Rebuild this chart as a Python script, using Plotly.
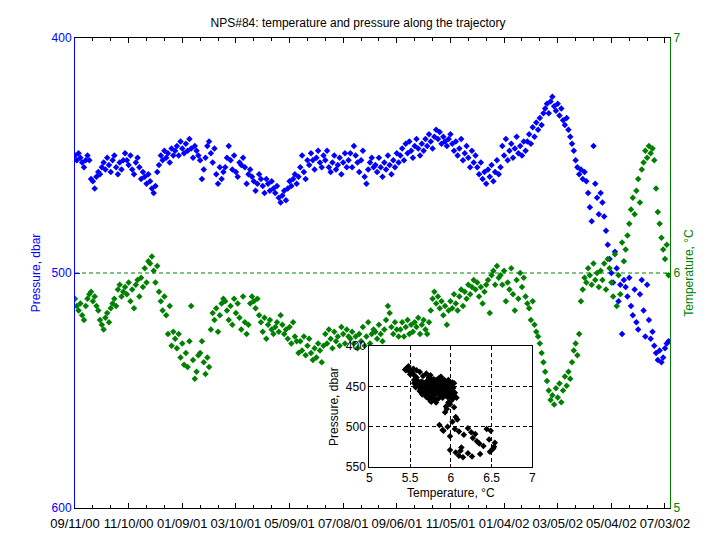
import pandas as pd
import plotly.graph_objects as go

# ---------------- data ----------------
start_date = "2000-09-11"
step_days = 2

pressure = [
    450, 452, 449, 451, 453, 455, 452, 450, 452, 460, 461, 464, 459, 457,
    458, 455, 453, 456, 451, 454, 457, 452, 450, 455, 458, 453, 456, 452,
    449, 452, 454, 450, 456, 458, 453, 451, 455, 460, 457, 459, 462, 458,
    461, 464, 466, 463, 457, 454, 450, 452, 448, 451, 449, 453, 447, 450,
    448, 446, 450, 444, 447, 449, 445, 448, 443, 447, 451, 446, 448, 450,
    452, 460, 456, 451, 446, 444, 449, 453, 447, 458, 462, 455, 460, 457,
    455, 451, 446, 452, 456, 450, 457, 459, 453, 454, 451, 455, 462, 458,
    456, 459, 461, 465, 462, 458, 460, 463, 466, 460, 462, 465, 461, 464,
    466, 463, 468, 470, 467, 465, 469, 464, 461, 463, 460, 458, 462, 459,
    455, 450, 457, 460, 452, 454, 449, 452, 456, 451, 448, 453, 455, 450,
    452, 448, 455, 457, 453, 450, 456, 454, 451, 458, 453, 449, 455, 452,
    449, 455, 446, 450, 453, 457, 452, 448, 459, 462, 456, 453, 451, 455,
    454, 457, 451, 455, 459, 453, 456, 450, 454, 458, 452, 455, 449, 453,
    450, 447, 452, 445, 449, 444, 448, 451, 446, 443, 447, 450, 445, 448,
    443, 446, 441, 444, 447, 442, 439, 443, 440, 445, 442, 444, 446, 443,
    441, 445, 448, 444, 450, 447, 443, 452, 449, 446, 451, 455, 448, 453,
    450, 455, 458, 453, 460, 457, 462, 456, 459, 454, 461, 457, 452, 458,
    455, 446, 450, 443, 452, 448, 445, 451, 447, 442, 449, 446, 450, 444,
    448, 444, 441, 445, 438, 442, 436, 439, 434, 437, 432, 430, 428, 432,
    427, 425, 429, 431, 428, 433, 430, 435, 437, 434, 439, 442, 445, 448,
    452, 455, 458, 456, 460, 457, 461, 466, 472, 478, 446, 462, 468, 475,
    466, 470, 476, 482, 488, 494, 500, 504, 491, 498, 512, 505, 526, 503,
    506, 510, 502, 514, 518, 507, 521, 524, 509, 503, 516, 527, 505, 520,
    528, 525, 531, 534, 537, 533, 538, 536, 532, 530, 529,
]

temperature = [
    5.89, 5.86, 5.84, 5.87, 5.82, 5.80, 5.86, 5.89, 5.91, 5.92, 5.88, 5.90, 5.86, 5.84,
    5.80, 5.78, 5.76, 5.81, 5.83, 5.79, 5.85, 5.87, 5.89, 5.86, 5.93, 5.95, 5.90, 5.92,
    5.94, 5.91, 5.96, 5.88, 5.93, 5.85, 5.95, 5.97, 5.90, 5.98, 5.94, 6.02, 5.96, 6.05,
    6.04, 6.07, 6.01, 5.96, 6.03, 5.92, 5.88, 5.84, 5.90, 5.82, 5.74, 5.86, 5.69, 5.75,
    5.72, 5.68, 5.74, 5.64, 5.70, 5.61, 5.66, 5.60, 5.71, 5.86, 5.63, 5.55, 5.58, 5.65,
    5.66, 5.71, 5.62, 5.57, 5.64, 5.60, 5.76, 5.83, 5.80, 5.85, 5.75, 5.82, 5.87, 5.89,
    5.88, 5.84, 5.80, 5.86, 5.78, 5.89, 5.83, 5.87, 5.81, 5.76, 5.90, 5.79, 5.74, 5.78,
    5.87, 5.90, 5.88, 5.85, 5.89, 5.82, 5.79, 5.75, 5.81, 5.72, 5.78, 5.80, 5.76, 5.74,
    5.77, 5.79, 5.75, 5.82, 5.78, 5.74, 5.76, 5.72, 5.77, 5.70, 5.79, 5.73, 5.71, 5.66,
    5.71, 5.67, 5.73, 5.65, 5.69, 5.72, 5.66, 5.63, 5.68, 5.64, 5.70, 5.67, 5.62, 5.69,
    5.74, 5.70, 5.76, 5.72, 5.68, 5.75, 5.71, 5.73, 5.69, 5.77, 5.74, 5.70, 5.76, 5.73,
    5.72, 5.75, 5.70, 5.73, 5.68, 5.74, 5.71, 5.77, 5.69, 5.73, 5.79, 5.70, 5.74, 5.76,
    5.75, 5.72, 5.78, 5.74, 5.71, 5.76, 5.80, 5.86, 5.83, 5.77, 5.74, 5.79, 5.76, 5.73,
    5.76, 5.79, 5.73, 5.77, 5.80, 5.74, 5.78, 5.75, 5.79, 5.77, 5.81, 5.74, 5.78, 5.80,
    5.76, 5.74, 5.79, 5.84, 5.89, 5.92, 5.87, 5.90, 5.85, 5.88, 5.82, 5.86, 5.78, 5.84,
    5.88, 5.85, 5.91, 5.87, 5.84, 5.90, 5.93, 5.86, 5.92, 5.89, 5.95, 5.91, 5.94, 5.97,
    5.93, 5.96, 5.90, 5.94, 5.87, 5.92, 5.95, 5.97, 5.83, 5.99, 6.01, 5.95, 6.03, 5.98,
    5.99, 5.95, 6.01, 5.88, 5.96, 5.93, 6.02, 5.91, 5.84, 5.97, 5.89, 6.00, 5.94, 5.98,
    5.90, 5.87, 5.85, 5.80, 5.88, 5.78, 5.75, 5.73, 5.70, 5.66, 5.62, 5.58, 5.54, 5.50,
    5.46, 5.48, 5.44, 5.51, 5.47, 5.53, 5.45, 5.50, 5.56, 5.52, 5.58, 5.55, 5.62, 5.67,
    5.70, 5.65, 5.74, 5.88, 5.93, 5.98, 5.96, 6.02, 5.99, 5.95, 6.04, 5.97, 6.00, 5.94,
    6.01, 5.97, 6.04, 5.93, 6.06, 6.02, 5.96, 5.90, 6.08, 5.86, 5.99, 5.91, 6.13, 6.05,
    6.10, 6.16, 6.21, 6.27, 6.32, 6.25, 6.35, 6.40, 6.30, 6.44, 6.47, 6.52, 6.49, 6.54,
    6.51, 6.53, 6.48, 6.36, 6.26, 6.21, 6.15, 6.10, 6.06, 6.12, 5.99,
]

tick_labels = ["09/11/00", "11/10/00", "01/09/01", "03/10/01", "05/09/01", "07/08/01",
               "09/06/01", "11/05/01", "01/04/02", "03/05/02", "05/04/02", "07/03/02"]
pressure_ticks = [400, 500, 600]
temperature_ticks = [5, 6, 7]
inset_temperature_ticks = [5, 5.5, 6, 6.5, 7]
inset_pressure_ticks = [400, 450, 500, 550]

# ---------------- figure ----------------
FONT = "Liberation Sans, Arial, Helvetica, sans-serif"
BLUE = "#0000ff"
GREEN = "#008000"

dates = pd.date_range(start_date, periods=len(pressure), freq=f"{step_days}D")
tick_dates = pd.date_range(start_date, periods=len(tick_labels), freq="60D")
x_end = pd.Timestamp(start_date) + pd.Timedelta(days=665.6)

fig = go.Figure()
fig.add_trace(go.Scatter(x=dates, y=pressure, mode="markers", xaxis="x", yaxis="y",
                         marker=dict(symbol="diamond", size=5, color=BLUE, line=dict(width=0)),
                         showlegend=False))
fig.add_trace(go.Scatter(x=dates, y=temperature, mode="markers", xaxis="x", yaxis="y2",
                         marker=dict(symbol="diamond", size=5, color=GREEN, line=dict(width=0)),
                         showlegend=False))
fig.add_trace(go.Scatter(x=temperature, y=pressure, mode="markers", xaxis="x2", yaxis="y3",
                         marker=dict(symbol="diamond", size=5, color="black", line=dict(width=0)),
                         showlegend=False))

# dashed green grid line of the temperature axis (its middle tick)
fig.add_shape(type="line", xref="x domain", yref="y2", x0=0, x1=1,
              y0=temperature_ticks[1], y1=temperature_ticks[1],
              line=dict(color=GREEN, width=1, dash="4px,3px"), layer="below")

fig.update_layout(
    width=716, height=538, autosize=False,
    margin=dict(l=75, r=46, t=38, b=30, pad=0),
    paper_bgcolor="white", plot_bgcolor="white",
    font=dict(family=FONT, size=12, color="black"),
    title=dict(text="NPS#84: temperature and pressure along the trajectory",
               x=0.5, xanchor="center", y=1 - 23 / 538, yanchor="middle",
               font=dict(size=12, color="black")),
    xaxis=dict(
        type="date", domain=[0, 1], anchor="y", range=[pd.Timestamp(start_date), x_end],
        tickmode="array", tickvals=tick_dates, ticktext=tick_labels,
        ticks="inside", ticklen=5, tickcolor="black", tickwidth=1,
        showline=True, linecolor="black", linewidth=1, mirror="ticks",
        showgrid=False, zeroline=False, automargin=False, ticklabelstandoff=3,
        tickfont=dict(size=13, color="black"),
        minor=dict(tickmode="linear", tick0=start_date, dtick=20 * 86400000,
                   ticks="inside", ticklen=3, tickcolor="black", showgrid=False),
    ),
    yaxis=dict(
        domain=[0, 1], anchor="x", range=[600, 400],
        tickmode="array", tickvals=pressure_ticks,
        ticks="inside", ticklen=5, tickcolor=BLUE,
        showline=True, linecolor=BLUE, linewidth=1,
        showgrid=False, zeroline=False, automargin=False,
        tickfont=dict(size=12, color=BLUE),
        title=dict(text="Pressure, dbar", font=dict(size=12, color=BLUE), standoff=8),
    ),
    yaxis2=dict(
        overlaying="y", side="right", anchor="x", range=[5, 7],
        tickmode="array", tickvals=temperature_ticks,
        ticks="inside", ticklen=5, tickcolor=GREEN,
        showline=True, linecolor=GREEN, linewidth=1,
        showgrid=False, zeroline=False, automargin=False,
        tickfont=dict(size=12, color=GREEN),
        title=dict(text="Temperature, °C", font=dict(size=12, color=GREEN), standoff=5),
    ),
    xaxis2=dict(
        domain=[0.4946, 0.7686], anchor="y3", range=[5, 7],
        tickmode="array", tickvals=inset_temperature_ticks,
        ticks="inside", ticklen=3, tickcolor="black",
        showline=True, linecolor="black", linewidth=1, mirror="ticks",
        showgrid=True, gridcolor="black", griddash="4px,3px", gridwidth=1,
        zeroline=False, automargin=False,
        tickfont=dict(size=12, color="black"),
        title=dict(text="Temperature, °C", font=dict(size=12, color="black"), standoff=4),
    ),
    yaxis3=dict(
        domain=[0.0874, 0.3443], anchor="x2", range=[550, 400],
        tickmode="array", tickvals=inset_pressure_ticks,
        ticks="inside", ticklen=3, tickcolor="black",
        showline=True, linecolor="black", linewidth=1, mirror="ticks",
        showgrid=True, gridcolor="black", griddash="4px,3px", gridwidth=1,
        zeroline=False, automargin=False,
        tickfont=dict(size=12, color="black"),
        title=dict(text="Pressure, dbar", font=dict(size=12, color="black"), standoff=4),
    ),
)

fig.write_html("out.html", config={"displayModeBar": False},
               post_script="document.body.style.margin='0';")
